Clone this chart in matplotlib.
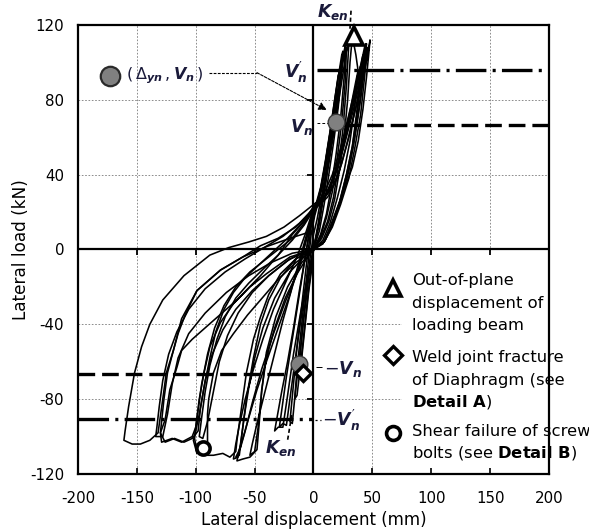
import matplotlib
matplotlib.use('Agg')
import matplotlib.pyplot as plt
from matplotlib.patches import Rectangle

plt.rcParams['font.family'] = ['DejaVu Sans']
plt.rcParams['axes.unicode_minus'] = False
plt.rcParams['mathtext.fontset'] = 'custom'
plt.rcParams['mathtext.rm'] = 'DejaVu Sans'
plt.rcParams['mathtext.it'] = 'DejaVu Sans:italic:bold'
plt.rcParams['mathtext.bf'] = 'DejaVu Sans:bold'
plt.rcParams['lines.scale_dashes'] = False

# ---------------- data (lateral displacement mm, lateral load kN) ----------------
x_ticks = [-200, -150, -100, -50, 0, 50, 100, 150, 200]
y_ticks = [-120, -80, -40, 0, 40, 80, 120]

loop_01_disp = [0, 4, 8, 12, 16, 19, 20, 18, 14, 10, 6, 3, 0, -3, -6, -9, -11, -12, -10, -7, -4, -1, 0]
loop_01_load = [0, 12, 28, 44, 60, 68, 70, 66, 52, 38, 26, 16, 8, -5, -22, -40, -54, -62, -58, -40, -22, -8, 0]

loop_16_disp = [0, 4, 8, 12, 16, 19, 21, 22, 20, 16, 12, 8, 4, 1, -2, -5, -8, -11, -14, -16, -14, -11, -8, -5, -2, 0]
loop_16_load = [0, 14, 30, 46, 62, 74, 83, 88, 84, 68, 52, 37, 25, 18, 8, -10, -28, -46, -64, -80, -78, -62, -44, -26, -10, 0]

loop_02_disp = [0, 4, 8, 12, 16, 20, 23, 24, 22, 18, 14, 10, 6, 2, -2, -6, -10, -14, -17, -20, -18, -16, -12, -8, -4, 0]
loop_02_load = [0, 12, 27, 43, 60, 78, 94, 100, 96, 80, 62, 46, 32, 22, 12, -8, -30, -52, -72, -92, -93, -80, -58, -36, -15, 0]

loop_03_disp = [0, 5, 9, 13, 17, 21, 24, 25, 24, 21, 17, 12, 8, 4, 1, -3, -8, -13, -18, -23, -27, -29,
                -26, -23, -19, -14, -9, -4, 0]
loop_03_load = [0, 10, 24, 40, 57, 76, 95, 106, 104, 92, 74, 54, 38, 27, 23, 12, -8, -28, -48, -68, -86, -95,
                -93, -94, -75, -52, -30, -12, 0]

loop_12_disp = [0, 5, 9, 13, 17, 20, 22, 23, 21, 18, 14, 10, 6, 2, -2, -7, -12, -17, -22, -27, -31, -33,
                -30, -26, -22, -17, -11, -5, 0]
loop_12_load = [0, 14, 30, 46, 62, 78, 90, 96, 93, 80, 63, 47, 33, 24, 14, -4, -22, -42, -60, -76, -90, -97,
                -95, -95, -78, -56, -34, -14, 0]

loop_04_disp = [0, 6, 11, 15, 19, 23, 26, 27, 26, 23, 19, 14, 9, 5, 1, -4, -10, -18, -26, -34, -42, -48, -52, -54,
                -50, -47, -44, -40, -32, -22, -10, 0]
loop_04_load = [0, 8, 19, 33, 50, 70, 92, 109, 106, 94, 77, 58, 40, 28, 22, 10, -4, -20, -38, -58, -78, -93, -104, -110,
                -108, -95, -76, -55, -36, -20, -7, 0]

loop_05_disp = [0, 7, 13, 18, 22, 26, 29, 31, 33, 36, 38, 40, 42, 44, 41, 36, 30, 24, 18, 12, 7, 3, 0,
                -5, -12, -20, -30, -40, -48, -55, -60, -63, -65, -60, -54, -48,
                -46, -44, -40, -33, -24, -14, -6, 0]
loop_05_load = [0, 6, 15, 27, 42, 60, 80, 100, 114, 104, 95, 91, 96, 104, 92, 76, 60, 46, 35, 28, 25, 23, 20,
                10, -6, -24, -42, -60, -75, -90, -101, -107, -113, -112, -111, -107,
                -92, -75, -58, -42, -26, -13, -5, 0]

loop_06_disp = [0, 6, 11, 16, 20, 24, 27, 28, 26, 22, 17, 12, 7, 3, 0, -6, -12, -24, -34, -44, -52, -58, -62, -66,
                -63, -61, -57, -51, -45, -38, -28, -15, 0]
loop_06_load = [0, 7, 17, 31, 48, 68, 90, 108, 104, 88, 68, 50, 34, 25, 21, 6, -10, -28, -45, -64, -82, -97, -106, -111,
                -110, -100, -80, -58, -40, -27, -15, -5, 0]

loop_13_disp = [0, 6, 12, 17, 21, 25, 28, 30, 28, 24, 19, 14, 9, 4, 0,
                -6, -14, -24, -34, -43, -51, -58, -63, -66, -68,
                -64, -62, -59, -55, -50, -43, -33, -20, -8, 0]
loop_13_load = [0, 6, 15, 28, 44, 64, 88, 110, 106, 90, 70, 52, 36, 26, 22,
                10, -4, -18, -32, -48, -64, -80, -94, -104, -112,
                -111, -104, -90, -74, -58, -42, -26, -12, -4, 0]

loop_07_disp = [0, 10, 17, 24, 30, 35, 40, 43, 45, 43, 38, 31, 24, 17, 10, 4, 0,
                -8, -18, -30, -42, -54, -66, -76, -84, -90, -95, -98, -100, -101,
                -99, -92, -85, -77, -71, -66, -65, -61, -57, -51, -45, -38, -28, -15, 0]
loop_07_load = [0, 5, 15, 28, 42, 60, 80, 95, 110, 103, 88, 70, 52, 38, 28, 24, 22,
                14, 6, 0, -6, -12, -20, -30, -42, -56, -72, -86, -95, -101,
                -108, -110, -110, -109, -111, -108, -102, -84, -66, -48, -36, -24, -13, -5, 0]

loop_08_disp = [0, 9, 15, 22, 28, 33, 37, 40, 38, 33, 26, 19, 12, 5, 0,
                -10, -22, -34, -46, -58, -68, -76, -83, -88, -93, -97, -100, -102,
                -99, -94, -90, -90, -89, -85, -78, -68, -56, -45, -30, -15, 0]
loop_08_load = [0, 4, 12, 25, 40, 55, 75, 98, 92, 76, 58, 42, 30, 25, 22,
                14, 6, -1, -8, -15, -23, -32, -44, -58, -74, -88, -97, -102,
                -109, -108, -104, -88, -80, -66, -54, -45, -35, -27, -16, -7, 0]

loop_14_disp = [0, 8, 14, 20, 26, 31, 35, 38, 36, 31, 25, 18, 11, 5, 0,
                -8, -18, -30, -42, -55, -66, -75, -82, -88, -92, -95, -97,
                -94, -90, -85, -80, -73, -64, -52, -38, -22, -8, 0]
loop_14_load = [0, 5, 14, 27, 42, 58, 76, 96, 90, 74, 56, 41, 30, 24, 21,
                13, 5, -3, -10, -18, -26, -36, -48, -62, -76, -90, -100,
                -101, -92, -76, -60, -46, -34, -23, -14, -6, -1, 0]

loop_09_disp = [0, 9, 16, 23, 29, 34, 38, 41, 43, 44, 42, 37, 30, 23, 16, 9, 3, 0,
                -8, -18, -30, -45, -65, -85, -103, -112, -116, -122, -126, -130,
                -129, -120, -112, -103, -100, -97, -93, -88, -79, -68, -54, -40, -20, 0]
loop_09_load = [0, 4, 13, 26, 40, 56, 72, 88, 100, 110, 104, 90, 72, 54, 40, 30, 25, 23,
                15, 8, -3, -14, -27, -38, -48, -54, -63, -75, -91, -98,
                -103, -101, -103, -100, -95, -80, -66, -52, -39, -29, -20, -13, -4, 0]

loop_10_disp = [0, 9, 15, 22, 28, 33, 37, 40, 42, 40, 34, 27, 20, 13, 6, 0,
                -15, -30, -45, -60, -79, -99, -109, -115, -119, -124, -127, -129, -130,
                -126, -118, -110, -103, -98, -96, -92, -86, -77, -66, -52, -38, -20, 0]
loop_10_load = [0, 4, 12, 25, 40, 55, 72, 88, 104, 97, 80, 60, 43, 31, 25, 21,
                12, 6, 2, -4, -11, -22, -35, -45, -54, -66, -80, -92, -98,
                -103, -101, -103, -101, -97, -85, -70, -56, -43, -32, -22, -14, -5, 0]

loop_15_disp = [0, 9, 16, 23, 30, 35, 40, 43, 46, 44, 39, 32, 25, 18, 11, 5, 0,
                -12, -26, -42, -58, -75, -92, -106, -116, -123, -128, -131, -133, -134,
                -128, -124, -120, -115, -106, -92, -74, -55, -36, -18, 0]
loop_15_load = [0, 4, 12, 24, 38, 54, 72, 90, 108, 102, 88, 70, 53, 39, 30, 25, 22,
                14, 7, 1, -5, -12, -21, -32, -44, -56, -70, -84, -95, -100,
                -100, -88, -72, -58, -45, -34, -23, -14, -7, -2, 0]

loop_11_disp = [0, 8, 14, 20, 26, 33, 38, 42, 45, 47, 48, 46, 42, 36, 29, 22, 15, 8, 2,
                -12, -25, -40, -55, -72, -88, -110, -128, -139, -146, -152, -157, -160, -161,
                -154, -147, -139, -132, -128, -125, -119, -112, -99, -79, -60, -40, -20, 0]
loop_11_load = [0, 3, 12, 22, 32, 44, 58, 75, 92, 105, 112, 104, 92, 76, 58, 42, 32, 27, 25,
                18, 12, 7, 4, 1, -3, -14, -27, -40, -52, -66, -84, -97, -102,
                -104, -104, -102, -98, -80, -66, -54, -37, -22, -11, -4, 1.5, 6, 10]

# reference load levels (kN)
Vn_pos, Vn_prime_pos = 66.4, 96.0
Vn_neg, Vn_prime_neg = -66.4, -90.5

# event points (mm, kN)
yield_pos = (18.7, 68.1)
yield_neg = (-12.0, -61.4)
out_of_plane_pt = (34.5, 114.0)
weld_fracture_pt = (-8.5, -65.9)
screw_shear_pt = (-94.0, -106.3)

loops = [(loop_01_disp, loop_01_load), (loop_16_disp, loop_16_load), (loop_02_disp, loop_02_load),
         (loop_03_disp, loop_03_load), (loop_12_disp, loop_12_load), (loop_04_disp, loop_04_load),
         (loop_05_disp, loop_05_load), (loop_06_disp, loop_06_load), (loop_13_disp, loop_13_load),
         (loop_07_disp, loop_07_load), (loop_08_disp, loop_08_load), (loop_14_disp, loop_14_load),
         (loop_09_disp, loop_09_load), (loop_10_disp, loop_10_load), (loop_15_disp, loop_15_load),
         (loop_11_disp, loop_11_load)]

# ---------------- figure ----------------
fig = plt.figure(figsize=(5.89, 5.29), dpi=100)
ax = fig.add_axes([0.1324, 0.1040, 0.7997, 0.8488])
ax.set_xlim(-200, 200)
ax.set_ylim(-120, 120)
ax.set_xticks(x_ticks)
ax.set_yticks(y_ticks)
ax.tick_params(axis='x', direction='in', length=4, width=1.2, pad=12, labelsize=10.8)
ax.tick_params(axis='y', length=0, pad=10, labelsize=10.8)
for s in ax.spines.values():
    s.set_linewidth(1.6)

# dotted grid
for gx in x_ticks[1:-1]:
    if gx != 0:
        ax.axvline(gx, color='#8c8c8c', lw=0.7, ls=(0, (1.2, 1.2)), zorder=0.5)
for gy in y_ticks[1:-1]:
    if gy != 0:
        ax.axhline(gy, color='#8c8c8c', lw=0.7, ls=(0, (1.2, 1.2)), zorder=0.5)

# white legend area
ax.add_patch(Rectangle((75, -119.6), 124.6, 117.6, facecolor='white', edgecolor='none', zorder=0.8))

# zero axes with small ticks
ax.axhline(0, color='k', lw=1.6, zorder=1.5)
ax.axvline(0, color='k', lw=1.6, zorder=1.5)
ax.plot([t for t in x_ticks[1:-1] if t != 0], [0] * 6, ls='none', marker=3, ms=4, mew=1.3, color='k', zorder=1.5)
ax.plot([0] * 4, [t for t in y_ticks[1:-1] if t != 0], ls='none', marker=0, ms=4, mew=1.3, color='k', zorder=1.5)

# hysteresis loops
for dx, ld in loops:
    ax.plot(dx, ld, color='k', lw=1.15, zorder=2)

# reference lines
dashdot = (0, (22, 4.5, 2.2, 4.5))
dashed = (0, (12, 5))
ax.hlines(Vn_prime_pos, 3, 200, colors='k', lw=2.4, linestyles=[dashdot], zorder=3)
ax.hlines(Vn_pos, 25, 200, colors='k', lw=2.4, linestyles=[dashed], zorder=3)
ax.hlines(Vn_pos + 1.2, 3, 15, colors='k', lw=0.7, linestyles=[(0, (2, 1.5))], zorder=3)
ax.hlines(Vn_neg, -200, -20, colors='k', lw=2.4, linestyles=[dashed], zorder=3)
ax.hlines(Vn_prime_neg, -200, 0, colors='k', lw=2.4, linestyles=[dashdot], zorder=3)
ax.hlines(Vn_neg + 3.8, 2, 7, colors='k', lw=0.7, zorder=3)
ax.hlines(Vn_prime_neg - 0.5, 1, 6, colors='k', lw=0.9, linestyles=[(0, (1.5, 2))], zorder=3)

# K_en markers
ax.plot([31, 32], [118, 129], color='k', lw=1.2, ls=(0, (3, 2)), clip_on=False, zorder=3)
ax.plot([-18.5, -22.2], [-88.5, -102.7], color='k', lw=1.2, ls=(0, (3, 2)), zorder=3)

# event markers
ax.plot(*out_of_plane_pt, marker='^', ms=13, mfc='white', mec='k', mew=2.6, zorder=5, clip_on=False)
ax.plot(*yield_pos, marker='o', ms=12, mfc='#808080', mec='#3a3a3a', mew=1.0, zorder=5)
ax.plot(*yield_neg, marker='o', ms=12, mfc='#808080', mec='#3a3a3a', mew=1.0, zorder=5)
ax.plot(*weld_fracture_pt, marker='D', ms=8.5, mfc='white', mec='k', mew=2.4, zorder=6)
ax.plot(*screw_shear_pt, marker='o', ms=9.5, mfc='white', mec='k', mew=2.6, zorder=6)

# labels on the plot
lab_col = '#1a1a3a'
ax.text(3, 124.3, r'$K_{en}$', fontsize=12.5, color=lab_col, ha='left', va='baseline')
ax.text(-41, -108.8, r'$K_{en}$', fontsize=12.5, color=lab_col, ha='left', va='baseline', zorder=6)
ax.text(-25, 91.7, r"$V_n^{\prime}$", fontsize=12.5, color=lab_col, ha='left', va='baseline')
ax.text(-20, 62.6, r'$V_n$', fontsize=12.5, color=lab_col, ha='left', va='baseline')
ax.text(9, -66.5, r'$-V_n$', fontsize=12.5, color=lab_col, ha='left', va='baseline')
ax.text(7, -94.5, r"$-V_n^{\prime}$", fontsize=12.5, color=lab_col, ha='left', va='baseline')

# yield point annotation
ax.plot(-172.7, 92.7, marker='o', ms=14, mfc='#808080', mec='#2a2a2a', mew=1.6, zorder=5)
ax.text(-159, 92.7, r'$(\,\Delta_{yn}\,,V_n\,)$', fontsize=11.5, color=lab_col, ha='left', va='center')
ax.plot([-89, -48], [94.5, 94.5], color='k', lw=0.8, ls=(0, (2, 1)))
ax.annotate('', xy=(11.2, 74.6), xytext=(-48, 94.5),
            arrowprops=dict(arrowstyle='-|>', lw=0.8, color='k', linestyle=(0, (2, 1)),
                            mutation_scale=12, shrinkA=0, shrinkB=0))

# legend-like block
leg_x = 83.4
ax.plot(67.8, -20.7, marker='^', ms=12, mfc='white', mec='k', mew=2.6, zorder=5)
ax.plot(67.8, -56.4, marker='D', ms=9, mfc='white', mec='k', mew=2.4, zorder=5)
ax.plot(67.5, -98.3, marker='o', ms=10, mfc='white', mec='k', mew=2.6, zorder=5)
leg_lines = [(-15.9, 'Out-of-plane'), (-27.9, 'displacement of'), (-39.8, 'loading beam'),
             (-56.9, 'Weld joint fracture'), (-68.9, 'of Diaphragm (see'), (-80.8, r'$\mathbf{Detail\ A}$)'),
             (-96.5, 'Shear failure of screw'), (-108.1, r'bolts (see $\mathbf{Detail\ B}$)')]
for yy, tt in leg_lines:
    ax.text(leg_x, yy - 3.3, tt, fontsize=11.8, ha='left', va='baseline', zorder=7)

ax.set_xlabel('Lateral displacement (mm)', fontsize=12, labelpad=4)
ax.set_ylabel('Lateral load (kN)', fontsize=12.2, labelpad=0)

fig.savefig('out.png', dpi=100)
